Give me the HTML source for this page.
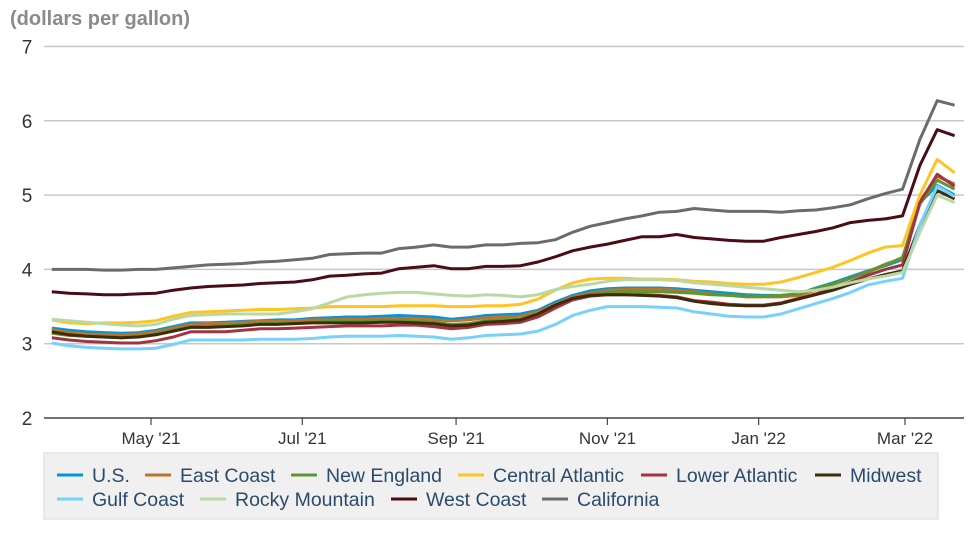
<!DOCTYPE html>
<html><head><meta charset="utf-8">
<style>
body{margin:0;background:#fff;width:980px;height:552px;overflow:hidden;font-family:"Liberation Sans",Arial,sans-serif}
svg text{font-family:"Liberation Sans",Arial,sans-serif}
</style></head>
<body>
<svg id="chart" width="980" height="552" xmlns="http://www.w3.org/2000/svg">
<text x="10" y="25" font-size="20" font-weight="bold" fill="#8a8a8a">(dollars per gallon)</text>
<g id="grid"></g><g id="series"></g><g id="axes"></g>
<g id="legend">
<rect x="44" y="453" width="894" height="66" fill="#f0f0f0" stroke="#e2e2e2" stroke-width="1.5"/>
</g>
</svg>
<script>
const yTicks=[2,3,4,5,6,7];
const xTickLabels=["May '21","Jul '21","Sep '21","Nov '21","Jan '22","Mar '22"];
const xTickDates=["2021-05-01","2021-07-01","2021-09-01","2021-11-01","2022-01-01","2022-03-01"];
const startDate="2021-03-22";
const seriesNames=["U.S.","East Coast","New England","Central Atlantic","Lower Atlantic","Midwest","Gulf Coast","Rocky Mountain","West Coast","California"];
const seriesColors=["#0096d7","#bd732a","#5d9732","#ffc423","#a33340","#3d2b0a","#76d1ff","#b8d9a5","#4a0c15","#6b6b6b"];
const usVals=[3.21,3.18,3.16,3.15,3.14,3.15,3.18,3.23,3.28,3.28,3.29,3.30,3.31,3.32,3.32,3.34,3.35,3.36,3.36,3.37,3.38,3.37,3.36,3.33,3.35,3.38,3.39,3.40,3.45,3.56,3.65,3.71,3.74,3.75,3.75,3.75,3.74,3.72,3.70,3.68,3.66,3.65,3.65,3.67,3.75,3.82,3.90,3.98,4.05,4.13,4.90,5.13,5.00];
const eastVals=[3.19,3.15,3.13,3.12,3.12,3.13,3.16,3.21,3.26,3.27,3.27,3.29,3.30,3.30,3.31,3.32,3.32,3.33,3.33,3.34,3.34,3.34,3.32,3.31,3.32,3.35,3.36,3.37,3.43,3.53,3.63,3.68,3.72,3.73,3.73,3.73,3.72,3.70,3.67,3.65,3.63,3.63,3.63,3.65,3.72,3.80,3.88,3.97,4.07,4.15,4.92,5.25,5.15];
const neVals=[3.14,3.11,3.10,3.09,3.08,3.10,3.13,3.18,3.23,3.23,3.24,3.26,3.27,3.27,3.28,3.29,3.30,3.30,3.30,3.31,3.31,3.30,3.29,3.26,3.27,3.31,3.32,3.33,3.40,3.50,3.61,3.66,3.69,3.70,3.70,3.70,3.69,3.68,3.66,3.65,3.64,3.64,3.65,3.67,3.74,3.81,3.88,3.96,4.06,4.16,4.88,5.20,5.08];
const caVals=[3.32,3.28,3.27,3.28,3.28,3.29,3.31,3.37,3.42,3.43,3.44,3.45,3.46,3.46,3.47,3.48,3.50,3.50,3.50,3.50,3.51,3.51,3.51,3.50,3.50,3.51,3.51,3.53,3.60,3.72,3.82,3.87,3.88,3.88,3.87,3.87,3.86,3.84,3.83,3.81,3.80,3.80,3.83,3.89,3.96,4.03,4.12,4.22,4.30,4.32,5.00,5.48,5.30];
const laVals=[3.08,3.05,3.03,3.02,3.01,3.01,3.04,3.09,3.16,3.16,3.16,3.18,3.20,3.20,3.21,3.22,3.23,3.24,3.24,3.24,3.25,3.25,3.23,3.20,3.22,3.26,3.27,3.29,3.36,3.48,3.59,3.64,3.66,3.66,3.66,3.65,3.63,3.58,3.56,3.53,3.52,3.52,3.55,3.61,3.67,3.75,3.83,3.92,4.00,4.06,4.90,5.28,5.12];
const mwVals=[3.16,3.12,3.10,3.09,3.08,3.09,3.12,3.17,3.22,3.22,3.23,3.24,3.26,3.26,3.27,3.28,3.28,3.28,3.28,3.29,3.29,3.28,3.27,3.24,3.25,3.29,3.30,3.32,3.40,3.52,3.61,3.65,3.66,3.66,3.65,3.64,3.62,3.57,3.54,3.52,3.51,3.51,3.54,3.60,3.66,3.72,3.80,3.87,3.93,3.98,4.60,5.06,4.95];
const gcVals=[3.01,2.97,2.95,2.94,2.93,2.93,2.94,2.99,3.05,3.05,3.05,3.05,3.06,3.06,3.06,3.07,3.09,3.10,3.10,3.10,3.11,3.10,3.09,3.06,3.08,3.11,3.12,3.13,3.17,3.26,3.38,3.45,3.50,3.50,3.50,3.49,3.48,3.43,3.40,3.37,3.36,3.36,3.40,3.47,3.54,3.61,3.69,3.79,3.84,3.88,4.60,5.12,4.98];
const rmVals=[3.33,3.31,3.29,3.27,3.25,3.24,3.26,3.33,3.38,3.39,3.40,3.40,3.40,3.40,3.43,3.47,3.55,3.63,3.66,3.68,3.69,3.69,3.67,3.65,3.64,3.66,3.65,3.63,3.66,3.73,3.77,3.80,3.84,3.86,3.86,3.86,3.85,3.82,3.80,3.78,3.76,3.74,3.72,3.70,3.72,3.76,3.82,3.87,3.91,3.96,4.50,5.00,4.90];
const wcVals=[3.70,3.68,3.67,3.66,3.66,3.67,3.68,3.72,3.75,3.77,3.78,3.79,3.81,3.82,3.83,3.86,3.91,3.92,3.94,3.95,4.01,4.03,4.05,4.01,4.01,4.04,4.04,4.05,4.10,4.17,4.25,4.30,4.34,4.39,4.44,4.44,4.47,4.43,4.41,4.39,4.38,4.38,4.43,4.47,4.51,4.56,4.63,4.66,4.68,4.72,5.40,5.88,5.80];
const calVals=[4.00,4.00,4.00,3.99,3.99,4.00,4.00,4.02,4.04,4.06,4.07,4.08,4.10,4.11,4.13,4.15,4.20,4.21,4.22,4.22,4.28,4.30,4.33,4.30,4.30,4.33,4.33,4.35,4.36,4.40,4.50,4.58,4.63,4.68,4.72,4.77,4.78,4.82,4.80,4.78,4.78,4.78,4.77,4.79,4.80,4.83,4.87,4.95,5.02,5.08,5.75,6.27,6.21];
const allVals=[usVals,eastVals,neVals,caVals,laVals,mwVals,gcVals,rmVals,wcVals,calVals];
const legendOrder=[0,1,2,3,4,5,6,7,8,9];

const NS="http://www.w3.org/2000/svg";
const X0=44,X1=964,Y2=418,Y7=46.5;
const day=86400000, t0=Date.parse(startDate), mayT=Date.parse("2021-05-01"), marT=Date.parse("2022-03-01");
function xScale(t){return 151+(t-mayT)/(marT-mayT)*(905-151);}
function yScale(v){return Y2-(v-2)/(7-2)*(Y2-Y7);}
function mk(tag,attrs,parent){const e=document.createElementNS(NS,tag);for(const k in attrs)e.setAttribute(k,attrs[k]);parent.appendChild(e);return e;}
const grid=document.getElementById('grid'),axes=document.getElementById('axes'),ser=document.getElementById('series'),leg=document.getElementById('legend');
yTicks.forEach(v=>{
  const y=yScale(v);
  if(v>2){const l=mk('line',{x1:X0,x2:X1,y1:y,y2:y,stroke:'#c8c8c8','stroke-width':1.5},grid);
  
  }
  const t=mk('text',{x:27,y:y+7,'font-size':19,fill:'#333','text-anchor':'middle'},axes);
  t.textContent=v;
  
  
});
const ax=mk('line',{x1:X0,x2:X1,y1:Y2,y2:Y2,stroke:'#444','stroke-width':1.5},axes);


xTickLabels.forEach((lab,i)=>{
  const x=xScale(Date.parse(xTickDates[i]));
  const tk=mk('line',{x1:x,x2:x,y1:Y2,y2:Y2+7,stroke:'#444','stroke-width':1.2},axes);
  
  
  const t=mk('text',{x:x,y:Y2+26,'font-size':17,fill:'#333','text-anchor':'middle'},axes);
  t.textContent=lab;
  
  
});
allVals.forEach((vals,s)=>{
  const pts=vals.map((v,i)=>xScale(t0+i*7*day).toFixed(1)+','+yScale(v).toFixed(1)).join(' ');
  const p=mk('polyline',{points:pts,fill:'none',stroke:seriesColors[s],'stroke-width':3,'stroke-linejoin':'round'},ser);
  
  
});
const legPos=[[57,475],[145,475],[291,475],[458,475],[641,475],[815,475],[57,499],[200,499],[391,499],[542,499]];
legendOrder.forEach((s,i)=>{
  const [x,y]=legPos[i];
  const g=mk('g',{},leg);
  
  
  mk('line',{x1:x,x2:x+26,y1:y,y2:y,stroke:seriesColors[s],'stroke-width':3},g);
  const t=mk('text',{x:x+35,y:y+7,'font-size':19.5,fill:'#2b4b6b'},g);
  t.textContent=seriesNames[s];
});
</script>
</body></html>
